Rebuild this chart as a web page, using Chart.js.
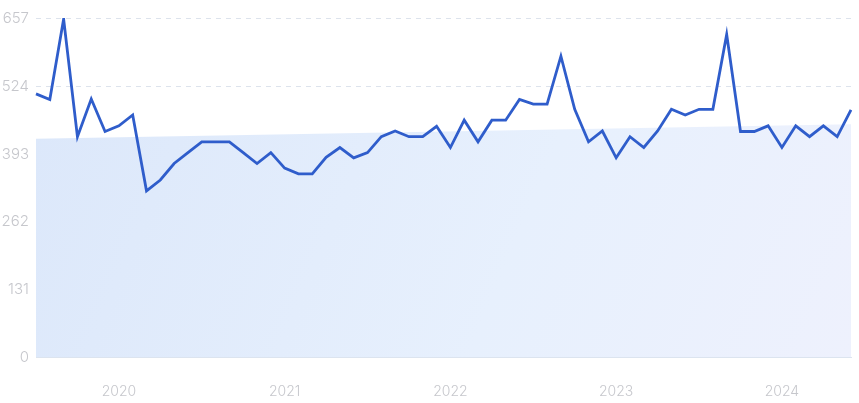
<!DOCTYPE html>
<html>
<head>
<meta charset="utf-8">
<script src="https://cdn.jsdelivr.net/npm/chart.js@4/dist/chart.umd.min.js"></script>
<style>
  html,body{margin:0;padding:0;background:#fff;}
  #wrap{width:859px;height:403px;}
</style>
</head>
<body>
<div id="wrap"><canvas id="c" width="859" height="403"></canvas></div>
<script>
// monthly labels, Jul 2019 .. Jun 2024
const months = [];
for (let y = 2019; y <= 2024; y++) {
  for (let m = 1; m <= 12; m++) {
    if ((y === 2019 && m < 7) || (y === 2024 && m > 6)) continue;
    months.push(y + '-' + String(m).padStart(2, '0'));
  }
}
const values = [
  510, 499, 655, 427, 500, 437, 448, 469, 322, 343, 375, 396,
  417, 417, 417, 396, 375, 396, 366, 355, 355, 387, 406, 386,
  396, 427, 438, 427, 427, 447, 406, 459, 417, 459, 459, 499,
  490, 490, 583, 480, 417, 438, 386, 427, 406, 438, 480, 469,
  480, 480, 625, 437, 437, 448, 406, 448, 427, 448, 427, 479
];
const trendStart = 423, trendEnd = 451;
const yTicks = [0, 131, 262, 393, 524, 657];

const tickColor = '#c6c7cc';
const yFont = { family: 'Inter, "Noto Sans", sans-serif', size: 15, weight: '300' };
const xFont = { family: 'Inter, "Noto Sans", sans-serif', size: 14, weight: '300' };

new Chart(document.getElementById('c'), {
  type: 'line',
  data: {
    labels: months,
    datasets: [
      {
        label: 'Value', data: values,
        borderColor: '#2f5dcb', borderWidth: 2.8,
        pointRadius: 0, tension: 0, fill: false, order: 1
      },
      {
        label: 'Trend',
        data: [{x: months[0], y: trendStart}, {x: months[months.length-1], y: trendEnd}],
        borderWidth: 0, pointRadius: 0, order: 2, fill: 'start',
        backgroundColor: (ctx) => {
          const a = ctx.chart.chartArea; if (!a) return '#e2ecfb';
          const g = ctx.chart.ctx.createLinearGradient(a.left, a.top, a.right, a.bottom);
          g.addColorStop(0, '#dbe7fa');
          g.addColorStop(0.6, '#e7f0fd');
          g.addColorStop(1, '#eef1fd');
          return g;
        }
      }
    ]
  },
  options: {
    responsive: false, animation: false,
    layout: { padding: { top: 18, right: 8, left: 0, bottom: 0 } },
    plugins: { legend: { display: false }, tooltip: { enabled: false } },
    scales: {
      x: {
        type: 'category', offset: false,
        grid: { display: false },
        border: { display: true, color: '#dce4ef', width: 1 },
        afterFit: (s) => { s.height = 46; },
        ticks: {
          color: tickColor, font: xFont, padding: 18,
          autoSkip: false, maxRotation: 0,
          callback: function(v, i) {
            const l = months[i];
            return l.endsWith('-01') ? l.slice(0, 4) : null;
          }
        }
      },
      y: {
        min: 0, max: 657,
        afterBuildTicks: (s) => { s.ticks = yTicks.map(v => ({ value: v })); },
        afterFit: (s) => { s.width = 36; },
        border: { display: false, dash: [5, 5] },
        grid: {
          color: (c) => c.tick && c.tick.value === 0 ? 'rgba(0,0,0,0)' : '#dde3ec',
          drawTicks: false
        },
        ticks: { color: tickColor, font: yFont, padding: 7 }
      }
    }
  }
});
</script>
</body>
</html>
